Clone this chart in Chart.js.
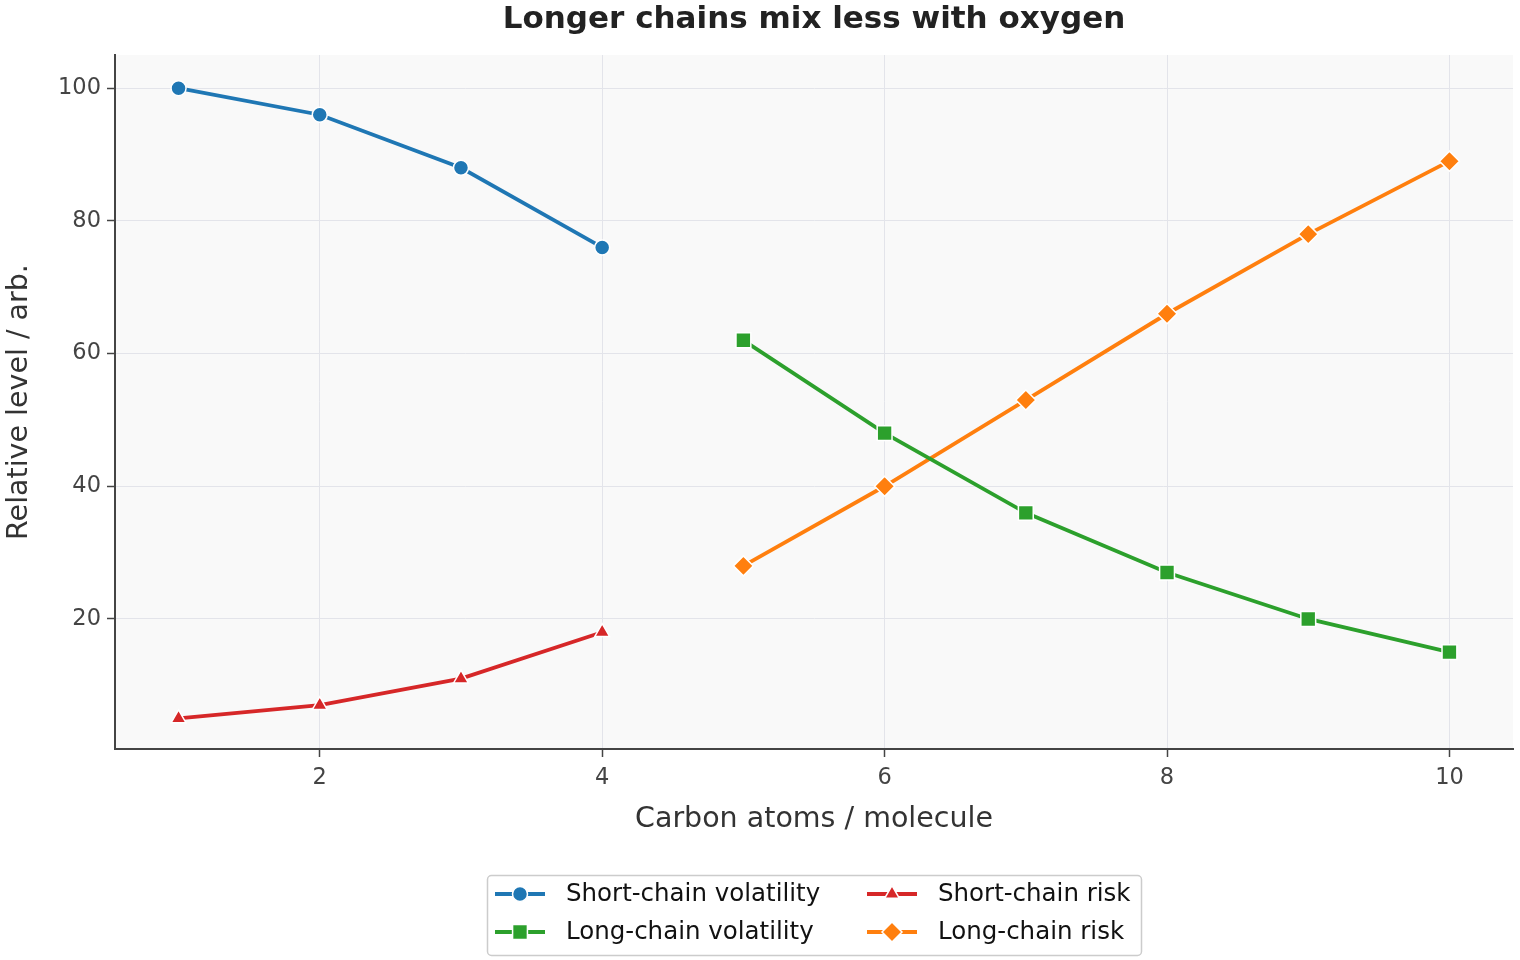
<!DOCTYPE html>
<html>
<head>
<meta charset="utf-8">
<script src="https://cdn.jsdelivr.net/npm/chart.js@4.4.1/dist/chart.umd.min.js"></script>
<style>
html,body{margin:0;padding:0;background:#fff;}
#wrap{width:1520px;height:960px;position:relative;}
</style>
</head>
<body>
<div id="wrap"><canvas id="c" width="1520" height="960"></canvas></div>
<script>
const carbonShort = [1, 2, 3, 4];
const carbonLong = [5, 6, 7, 8, 9, 10];
const shortVolatility = [100, 96, 88, 76];
const shortRisk = [5, 7, 11, 18];
const longVolatility = [62, 48, 36, 27, 20, 15];
const longRisk = [28, 40, 53, 66, 78, 89];
const xTicks = [2, 4, 6, 8, 10];
const yTicks = [20, 40, 60, 80, 100];
const seriesNames = ['Short-chain volatility', 'Short-chain risk', 'Long-chain volatility', 'Long-chain risk'];
const titleText = 'Longer chains mix less with oxygen';
const xTitle = 'Carbon atoms / molecule';
const yTitle = 'Relative level / arb.';

const FONT = '"DejaVu Sans", sans-serif';
const toPts = (xs, ys) => xs.map((x, i) => ({x: x, y: ys[i]}));

const colors = {blue:'#1f77b4', red:'#d62728', green:'#2ca02c', orange:'#ff7f0e'};
const markerSize = {circle: 7.5, triangle: 8.5, rect: 10.5, rectRot: 10};

function ds(label, data, color, style) {
  return {
    label, data, borderColor: color, backgroundColor: color,
    borderWidth: 3.8, pointStyle: style,
    pointRadius: markerSize[style],
    pointBorderColor: '#ffffff', pointBorderWidth: 1.5,
    pointHoverRadius: markerSize[style], tension: 0, fill: false
  };
}

const datasets = [
  ds(seriesNames[0], toPts(carbonShort, shortVolatility), colors.blue, 'circle'),
  ds(seriesNames[1], toPts(carbonShort, shortRisk), colors.red, 'triangle'),
  ds(seriesNames[2], toPts(carbonLong, longVolatility), colors.green, 'rect'),
  ds(seriesNames[3], toPts(carbonLong, longRisk), colors.orange, 'rectRot')
];

const bgPlugin = {
  id: 'bg',
  beforeDraw(chart) {
    const {ctx, chartArea: a} = chart;
    ctx.save();
    ctx.fillStyle = '#f9f9f9';
    ctx.fillRect(a.left, a.top, a.right - a.left, a.bottom - a.top);
    ctx.restore();
  }
};

const textPlugin = {
  id: 'texts',
  afterDraw(chart) {
    const {ctx, chartArea: a} = chart;
    ctx.save();
    ctx.fillStyle = '#222';
    ctx.font = 'bold 31px ' + FONT;
    ctx.textAlign = 'center';
    ctx.textBaseline = 'middle';
    ctx.fillText(titleText, (a.left + a.right) / 2, 20);
    ctx.fillStyle = '#333';
    ctx.font = '28.5px ' + FONT;
    ctx.fillText(xTitle, (a.left + a.right) / 2, a.bottom + 71);
    ctx.save();
    ctx.translate(20, (a.top + a.bottom) / 2);
    ctx.rotate(-Math.PI / 2);
    ctx.fillText(yTitle, 0, 0);
    ctx.restore();
    const lx = 487, ly = 875, lw = 654, lh = 80;
    ctx.beginPath();
    ctx.roundRect(lx + 0.5, ly + 0.5, lw, lh, 4);
    ctx.fillStyle = 'rgba(255,255,255,0.9)';
    ctx.fill();
    ctx.strokeStyle = '#cccccc';
    ctx.lineWidth = 1.5;
    ctx.stroke();
    const cols = [495, 867];
    const rows = [894, 932];
    const order = [[0, 0, 0], [2, 0, 1], [1, 1, 0], [3, 1, 1]];
    ctx.font = '24.5px ' + FONT;
    ctx.textAlign = 'left';
    order.forEach(([di, c, r]) => {
      const d = datasets[di];
      const x0 = cols[c], y0 = rows[r];
      ctx.strokeStyle = d.borderColor;
      ctx.lineWidth = 3.8;
      ctx.beginPath();
      ctx.moveTo(x0, y0);
      ctx.lineTo(x0 + 50, y0);
      ctx.stroke();
      ctx.fillStyle = d.borderColor;
      ctx.strokeStyle = '#ffffff';
      ctx.lineWidth = 1.5;
      Chart.helpers.drawPoint(ctx, {pointStyle: d.pointStyle, radius: d.pointRadius, rotation: 0, borderWidth: 1.5}, x0 + 25, y0);
      ctx.fillStyle = '#111';
      ctx.fillText(d.label, x0 + 71, y0 + 1);
    });
    ctx.restore();
  }
};

new Chart(document.getElementById('c'), {
  type: 'line',
  data: { datasets },
  options: {
    responsive: false,
    animation: false,
    devicePixelRatio: 1,
    layout: { autoPadding: false, padding: { top: 55, right: 7, bottom: 111, left: 0 } },
    plugins: { legend: { display: false }, title: { display: false }, tooltip: { enabled: false } },
    scales: {
      x: {
        type: 'linear', min: 0.55, max: 10.45,
        afterBuildTicks(s) { s.ticks = xTicks.map(v => ({value: v})); },
        afterFit(s) { s.height = 100; s.paddingLeft = 0; s.paddingRight = 0; },
        grid: { color: '#e3e4ea', lineWidth: 1, tickLength: 8, tickColor: '#444', tickWidth: 1.5 },
        border: { color: '#444', width: 2 },
        ticks: { color: '#444', font: { family: FONT, size: 22.5 }, padding: 8, maxRotation: 0 }
      },
      y: {
        type: 'linear', min: 0.4, max: 105.0,
        afterBuildTicks(s) { s.ticks = yTicks.map(v => ({value: v})); },
        afterFit(s) { s.width = 115; s.paddingTop = 0; s.paddingBottom = 0; },
        grid: { color: '#e3e4ea', lineWidth: 1, tickLength: 8, tickColor: '#444', tickWidth: 1.5 },
        border: { color: '#444', width: 2 },
        ticks: { color: '#444', font: { family: FONT, size: 22.5 }, padding: 6 }
      }
    }
  },
  plugins: [bgPlugin, textPlugin]
});
</script>
</body>
</html>
